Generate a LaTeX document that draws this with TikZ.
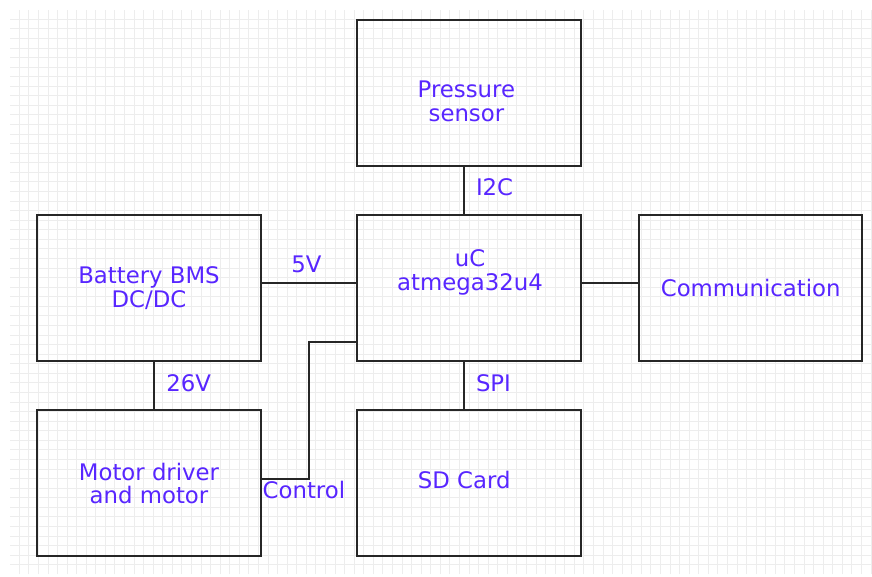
\documentclass[tikz,border=0pt]{standalone}
\usepackage{fontspec}
\newfontfamily\diagfont{DejaVu Sans}
\usepackage{tikz}
\usetikzlibrary{arrows.meta, positioning, calc}
\definecolor{lblblue}{RGB}{88,38,255}

\begin{document}
\begin{tikzpicture}[x=1pt, y=-1pt, line width=2pt,
  blk/.style={draw=black!85, rectangle, minimum width=223.4pt, minimum height=146pt,
    inner sep=0pt, outer sep=0pt, align=center, text=lblblue,
    font=\diagfont\fontsize{22.8}{23.4}\selectfont},
  txt/.style={inner sep=0pt, align=center, text=lblblue,
    font=\diagfont\fontsize{22.8}{23.4}\selectfont},
  lbl/.style={inner sep=0pt, text=lblblue, font=\diagfont\fontsize{22.8}{23.4}\selectfont},
  wire/.style={draw=black!85, line width=2pt}]
\useasboundingbox[fill=white] (0,0) rectangle (872,576);
\draw[black!7, line width=0.7pt, step=9.57pt] (10,10) grid (872,574);

% blocks
\node[blk] (uc) at (469,288) {};
\node[blk, above=49.3pt of uc] (press) {};
\node[blk, below=49.3pt of uc] (sd) {};
\node[blk, left=96.6pt of uc] (bms) {Battery BMS\\DC/DC};
\node[blk, right=58.3pt of uc] (comm) {Communication};
\node[blk, below=49.3pt of bms] (motor) {Motor driver\\and motor};
\node[txt] (presstxt) at ([xshift=-2.6pt, yshift=-8.7pt]press.center) {Pressure\\sensor};
\node[txt] (uctxt) at ([xshift=1pt, yshift=15.6pt]uc.center) {uC\\atmega32u4};
\node[txt] (sdtxt) at ([xshift=-4.8pt, yshift=3.3pt]sd.center) {SD Card};

% links
\draw[wire] ([xshift=-5pt]press.south) --
  node[lbl, anchor=west, xshift=11pt, yshift=3pt] (i2c) {I2C} ([xshift=-5pt]uc.north);
\draw[wire] ([yshift=4.7pt]bms.east) --
  node[lbl, anchor=south, xshift=-2.6pt, yshift=9.3pt] (v5) {5V} ([yshift=4.7pt]uc.west);
\draw[wire] ([yshift=4.7pt]uc.east) -- ([yshift=4.7pt]comm.west);
\draw[wire] ([xshift=4.6pt]bms.south) --
  node[lbl, anchor=west, xshift=11.7pt, yshift=2.8pt] (v26) {26V} ([xshift=4.6pt]motor.north);
\draw[wire] ([xshift=-4.7pt]uc.south) --
  node[lbl, anchor=west, xshift=10.7pt, yshift=2.8pt] (spi) {SPI} ([xshift=-4.7pt]sd.north);
\draw[wire] ([yshift=4pt]motor.east)
  node[lbl, anchor=north west, xshift=1pt, yshift=-1pt] (ctrl) {Control}
  -- ++(48.3pt,0) |- ([yshift=-54.3pt]uc.west);
\end{tikzpicture}
\end{document}
